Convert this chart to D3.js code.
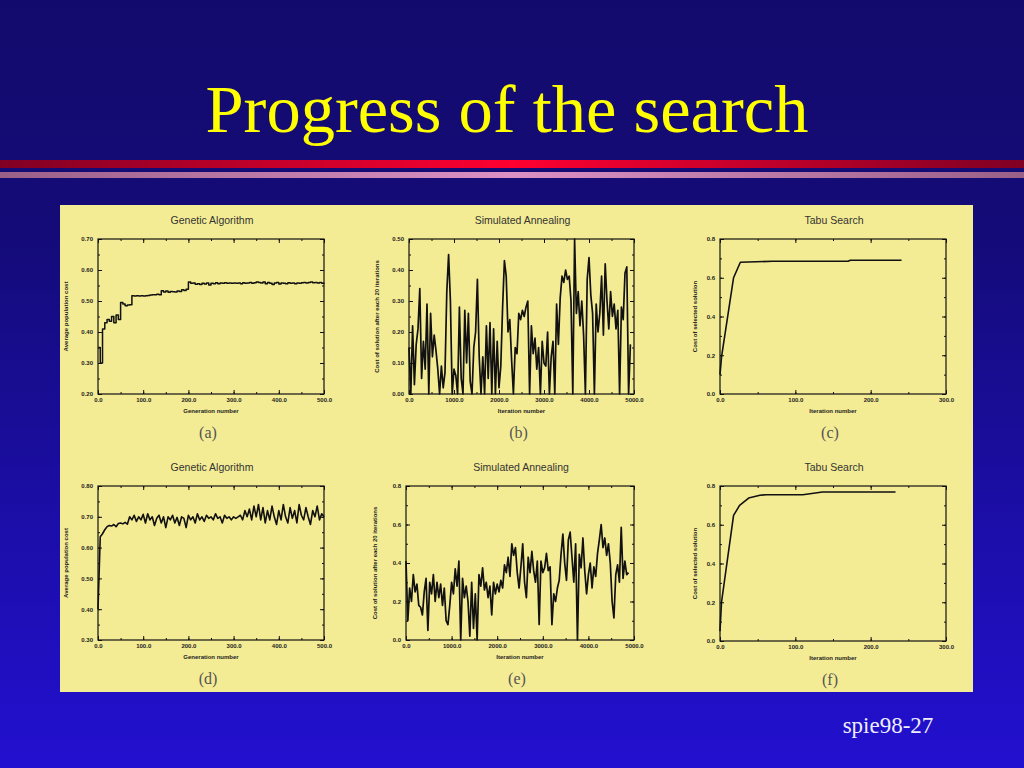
<!DOCTYPE html>
<html><head><meta charset="utf-8">
<script src="https://cdn.jsdelivr.net/npm/d3@7"></script>
<style>html,body{margin:0;padding:0;overflow:hidden;background:#130b6c}</style>
</head><body><svg id="c" width="1024" height="768"></svg>
<script>
// ---------------- DATA ----------------
const slideTitle = "Progress of the search";
const slideFooter = "spie98-27";

const gaGenStep = 5; // generations between samples
const gaCostA = [0.35,0.30,0.41,0.43,0.44,0.435,0.45,0.43,0.455,0.44,
  0.495,0.49,0.485,0.487,0.488,0.517,0.516,0.517,0.516,0.517,
  0.516,0.517,0.518,0.519,0.52,0.52,0.522,0.52,0.533,0.529,
  0.532,0.528,0.531,0.53,0.529,0.532,0.531,0.536,0.534,0.538,
  0.561,0.557,0.558,0.554,0.556,0.553,0.557,0.555,0.558,0.552,
  0.557,0.556,0.559,0.556,0.558,0.557,0.559,0.557,0.558,0.557,
  0.558,0.557,0.558,0.556,0.559,0.557,0.558,0.56,0.557,0.559,
  0.561,0.56,0.558,0.561,0.556,0.56,0.557,0.553,0.558,0.56,
  0.555,0.558,0.557,0.556,0.559,0.557,0.558,0.556,0.558,0.557,
  0.559,0.56,0.558,0.56,0.561,0.559,0.56,0.558,0.56,0.557,0.556];
const gaCostD = [0.40,0.635,0.645,0.658,0.668,0.672,0.67,0.675,0.668,0.678,
  0.68,0.677,0.682,0.676,0.70,0.69,0.705,0.685,0.70,0.69,
  0.708,0.68,0.71,0.69,0.70,0.672,0.695,0.705,0.68,0.70,
  0.665,0.70,0.69,0.705,0.68,0.698,0.672,0.70,0.695,0.665,
  0.705,0.69,0.70,0.68,0.71,0.69,0.70,0.685,0.705,0.695,
  0.70,0.69,0.71,0.695,0.70,0.68,0.705,0.695,0.70,0.69,
  0.70,0.695,0.70,0.705,0.69,0.72,0.70,0.725,0.69,0.735,
  0.70,0.74,0.69,0.73,0.68,0.72,0.69,0.735,0.70,0.675,
  0.72,0.69,0.74,0.70,0.68,0.73,0.695,0.72,0.68,0.74,
  0.705,0.69,0.73,0.70,0.675,0.72,0.70,0.735,0.69,0.71,0.70];

const saIterStep = 40; // iterations between samples
const saCostB = [0.15,0.0,0.22,0.03,0.16,0.21,0.34,0.05,0.17,0.08,
  0.29,0.0,0.26,0.12,0.19,0.14,0.08,0.0,0.09,0.02,
  0.07,0.33,0.45,0.30,0.0,0.08,0.06,0.0,0.28,0.05,
  0.0,0.27,0.10,0.26,0.04,0.0,0.15,0.20,0.37,0.12,
  0.0,0.12,0.0,0.22,0.05,0.23,0.0,0.21,0.0,0.17,
  0.02,0.09,0.28,0.43,0.38,0.20,0.24,0.11,0.0,0.15,
  0.13,0.26,0.24,0.27,0.25,0.28,0.30,0.0,0.22,0.13,
  0.18,0.08,0.15,0.0,0.17,0.10,0.09,0.20,0.0,0.12,
  0.17,0.0,0.29,0.16,0.31,0.38,0.36,0.40,0.37,0.38,
  0.30,0.0,0.50,0.26,0.33,0.22,0.30,0.19,0.0,0.37,
  0.44,0.32,0.26,0.0,0.29,0.20,0.26,0.38,0.19,0.42,
  0.30,0.21,0.33,0.25,0.29,0.21,0.27,0.0,0.28,0.24,
  0.39,0.41,0.0,0.16];
const saCostE = [0.41,0.10,0.27,0.20,0.34,0.25,0.29,0.18,0.17,0.13,
  0.25,0.32,0.05,0.30,0.24,0.34,0.20,0.30,0.22,0.29,
  0.18,0.27,0.10,0.08,0.18,0.30,0.24,0.37,0.28,0.41,
  0.0,0.32,0.22,0.28,0.20,0.02,0.30,0.06,0.24,0.0,
  0.34,0.28,0.375,0.26,0.30,0.22,0.28,0.13,0.30,0.24,
  0.29,0.25,0.31,0.27,0.39,0.35,0.43,0.33,0.50,0.44,
  0.48,0.35,0.27,0.38,0.50,0.30,0.22,0.43,0.35,0.46,
  0.36,0.30,0.41,0.08,0.41,0.35,0.375,0.45,0.36,0.38,
  0.08,0.24,0.20,0.27,0.31,0.445,0.55,0.40,0.31,0.52,
  0.56,0.43,0.30,0.50,0.0,0.445,0.375,0.53,0.36,0.24,
  0.34,0.40,0.27,0.38,0.33,0.45,0.52,0.60,0.48,0.53,
  0.44,0.50,0.40,0.20,0.115,0.34,0.39,0.30,0.585,0.32,
  0.41,0.34,0.35];

const tabuIterC = [0, 2, 18, 27, 70, 170, 173, 241];
const tabuCostC = [0.10, 0.19, 0.60, 0.68, 0.685, 0.685, 0.69, 0.69];
const tabuIterF = [0, 2, 18, 26, 38, 53, 61, 110, 136, 233];
const tabuCostF = [0.05, 0.20, 0.648, 0.70, 0.738, 0.752, 0.755, 0.755, 0.769, 0.769];

const panelTitles = ["Genetic Algorithm","Simulated Annealing","Tabu Search","Genetic Algorithm","Simulated Annealing","Tabu Search"];
const panelLetters = ["(a)","(b)","(c)","(d)","(e)","(f)"];
const xLabels = ["Generation number","Iteration number","Iteration number","Generation number","Iteration number","Iteration number"];
const yLabels = ["Average population cost","Cost of solution after each 20 iterations","Cost of selected solution","Average population cost","Cost of solution after each 20 iterations","Cost of selected solution"];
const xTicksGA = [0,100,200,300,400,500];
const xTicksSA = [0,1000,2000,3000,4000,5000];
const xTicksTS = [0,100,200,300];
const yTicksA = [0.2,0.3,0.4,0.5,0.6,0.7];
const yTicksB = [0,0.1,0.2,0.3,0.4,0.5];
const yTicksTS = [0,0.2,0.4,0.6,0.8];
const yTicksD = [0.3,0.4,0.5,0.6,0.7,0.8];

// ---------------- DRAW ----------------
const svg = d3.select("#c");
const defs = svg.append("defs");
const bg = defs.append("linearGradient").attr("id","bg").attr("x1",0).attr("y1",0).attr("x2",0).attr("y2",1);
bg.append("stop").attr("offset","0%").attr("stop-color","#130b6c");
bg.append("stop").attr("offset","30%").attr("stop-color","#140b78");
bg.append("stop").attr("offset","100%").attr("stop-color","#2210d0");
const red = defs.append("linearGradient").attr("id","red");
red.append("stop").attr("offset","0%").attr("stop-color","#800024");
red.append("stop").attr("offset","50%").attr("stop-color","#ff0030");
red.append("stop").attr("offset","100%").attr("stop-color","#800024");
const pink = defs.append("linearGradient").attr("id","pink");
pink.append("stop").attr("offset","0%").attr("stop-color","#9a6088");
pink.append("stop").attr("offset","50%").attr("stop-color","#dc90c4");
pink.append("stop").attr("offset","100%").attr("stop-color","#9a6088");

svg.append("rect").attr("width",1024).attr("height",768).attr("fill","url(#bg)");
svg.append("rect").attr("x",0).attr("y",160).attr("width",1024).attr("height",8).attr("fill","url(#red)");
svg.append("rect").attr("x",0).attr("y",172).attr("width",1024).attr("height",6).attr("fill","url(#pink)");

svg.append("text").attr("x",507).attr("y",132).attr("text-anchor","middle")
  .attr("font-family","'Liberation Serif','Times New Roman',serif").attr("font-size",68.5)
  .attr("fill","#ffff00").text(slideTitle);
svg.append("text").attr("x",888).attr("y",733).attr("text-anchor","middle")
  .attr("font-family","'Liberation Serif','Times New Roman',serif").attr("font-size",23)
  .attr("fill","#eeeeff").text(slideFooter);

svg.append("rect").attr("x",60).attr("y",205).attr("width",913).attr("height",487).attr("fill","#f4ec94");

const panels = [
  {left:98, right:324, top:239, bottom:394, ylx:66,  xD:[0,500], yD:[0.2,0.7], xT:xTicksGA, yT:yTicksA, xMin:50, yMin:0.05, xF:".1f", yF:".2f",
   xs:gaCostA.map((v,i)=>i*gaGenStep), ys:gaCostA, step:true, sw:1.5},
  {left:409, right:634, top:239, bottom:394, ylx:377, xD:[0,5000], yD:[0,0.5], xT:xTicksSA, yT:yTicksB, xMin:500, yMin:0.05, xF:".1f", yF:".2f",
   xs:saCostB.map((v,i)=>i*saIterStep), ys:saCostB, sw:1.7},
  {left:720, right:946, top:239, bottom:394, ylx:695, xD:[0,300], yD:[0,0.8], xT:xTicksTS, yT:yTicksTS, xMin:50, yMin:0.1, xF:".1f", yF:".1f",
   xs:tabuIterC, ys:tabuCostC, sw:1.6},
  {left:98, right:324, top:486, bottom:640, ylx:66,  xD:[0,500], yD:[0.3,0.8], xT:xTicksGA, yT:yTicksD, xMin:50, yMin:0.05, xF:".1f", yF:".2f",
   xs:gaCostD.map((v,i)=>i*gaGenStep), ys:gaCostD, sw:1.6},
  {left:406, right:634, top:486, bottom:640, ylx:375, xD:[0,5000], yD:[0,0.8], xT:xTicksSA, yT:yTicksTS, xMin:500, yMin:0.1, xF:".1f", yF:".1f",
   xs:saCostE.map((v,i)=>i*saIterStep), ys:saCostE, sw:1.7},
  {left:720, right:946, top:486, bottom:641, ylx:695, xD:[0,300], yD:[0,0.8], xT:xTicksTS, yT:yTicksTS, xMin:50, yMin:0.1, xF:".1f", yF:".1f",
   xs:tabuIterF, ys:tabuCostF, sw:1.6}
];

function styleAxis(g){
  g.select(".domain").remove();
  g.selectAll("line").attr("stroke","#111").attr("stroke-width",1);
  g.selectAll("text").attr("font-family","'Liberation Sans',Arial,sans-serif")
    .attr("font-size",6).attr("font-weight","bold").attr("fill","#222");
  g.attr("font-size",null).attr("font-family",null);
}

panels.forEach((p,k)=>{
  const g = svg.append("g");
  const x = d3.scaleLinear().domain(p.xD).range([p.left,p.right]);
  const y = d3.scaleLinear().domain(p.yD).range([p.bottom,p.top]);
  const xMinor = d3.range(p.xD[0], p.xD[1]+1e-9, p.xMin);
  const yMinor = d3.range(p.yD[0], p.yD[1]+1e-9, p.yMin);

  // minor ticks
  g.append("g").attr("transform",`translate(0,${p.bottom})`).call(d3.axisBottom(x).tickValues(xMinor).tickFormat("").tickSizeInner(-2).tickSizeOuter(0)).call(styleAxis);
  g.append("g").attr("transform",`translate(0,${p.top})`).call(d3.axisTop(x).tickValues(xMinor).tickFormat("").tickSizeInner(-2).tickSizeOuter(0)).call(styleAxis);
  g.append("g").attr("transform",`translate(${p.left},0)`).call(d3.axisLeft(y).tickValues(yMinor).tickFormat("").tickSizeInner(-2).tickSizeOuter(0)).call(styleAxis);
  g.append("g").attr("transform",`translate(${p.right},0)`).call(d3.axisRight(y).tickValues(yMinor).tickFormat("").tickSizeInner(-2).tickSizeOuter(0)).call(styleAxis);
  // major ticks
  g.append("g").attr("transform",`translate(0,${p.bottom})`).call(d3.axisBottom(x).tickValues(p.xT).tickFormat(d3.format(p.xF)).tickSizeInner(-4).tickSizeOuter(0).tickPadding(4)).call(styleAxis);
  g.append("g").attr("transform",`translate(0,${p.top})`).call(d3.axisTop(x).tickValues(p.xT).tickFormat("").tickSizeInner(-4).tickSizeOuter(0)).call(styleAxis);
  g.append("g").attr("transform",`translate(${p.left},0)`).call(d3.axisLeft(y).tickValues(p.yT).tickFormat(d3.format(p.yF)).tickSizeInner(-4).tickSizeOuter(0).tickPadding(5)).call(styleAxis);
  g.append("g").attr("transform",`translate(${p.right},0)`).call(d3.axisRight(y).tickValues(p.yT).tickFormat("").tickSizeInner(-4).tickSizeOuter(0)).call(styleAxis);

  // frame
  g.append("rect").attr("x",p.left).attr("y",p.top).attr("width",p.right-p.left).attr("height",p.bottom-p.top)
    .attr("fill","none").attr("stroke","#111").attr("stroke-width",1.2);

  // data line
  const line = d3.line().x((d,i)=>x(p.xs[i])).y(d=>y(d));
  if (p.step) line.curve(d3.curveStepAfter);
  g.append("path").attr("d",line(p.ys)).attr("fill","none").attr("stroke","#111").attr("stroke-width",p.sw).attr("stroke-linejoin","round");

  const cx = (p.left+p.right)/2;
  g.append("text").attr("x",cx+1).attr("y",p.top-15).attr("text-anchor","middle")
    .attr("font-family","'Liberation Sans',Arial,sans-serif").attr("font-size",10.5).attr("fill","#333").text(panelTitles[k]);
  g.append("text").attr("x",cx).attr("y",p.bottom+19).attr("text-anchor","middle")
    .attr("font-family","'Liberation Sans',Arial,sans-serif").attr("font-size",6).attr("font-weight","bold").attr("fill","#222").text(xLabels[k]);
  g.append("text").attr("transform",`translate(${p.ylx+2},${(p.top+p.bottom)/2}) rotate(-90)`).attr("text-anchor","middle")
    .attr("font-family","'Liberation Sans',Arial,sans-serif").attr("font-size",6).attr("font-weight","bold").attr("fill","#222").text(yLabels[k]);
  g.append("text").attr("x",cx-3).attr("y",p.bottom+44).attr("text-anchor","middle")
    .attr("font-family","'Liberation Serif','Times New Roman',serif").attr("font-size",16).attr("fill","#555").text(panelLetters[k]);
});
</script></body></html>
